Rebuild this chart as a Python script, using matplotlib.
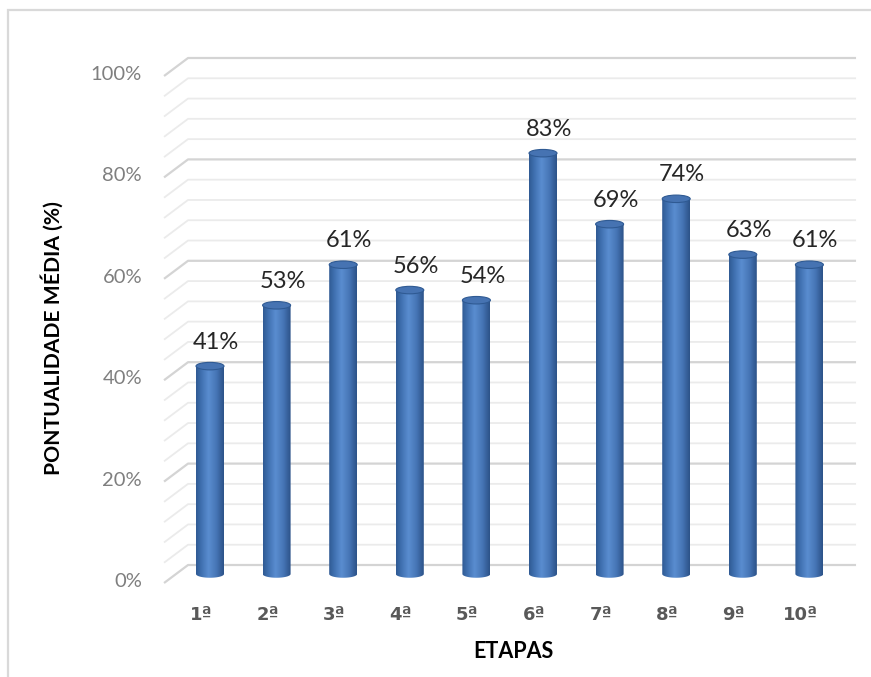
import numpy as np
import matplotlib
matplotlib.use("Agg")
import matplotlib.pyplot as plt
from matplotlib.path import Path
from matplotlib.patches import Ellipse, Rectangle, PathPatch
from matplotlib.colors import LinearSegmentedColormap

# ---- data ----
categories = ["1ª", "2ª", "3ª", "4ª", "5ª", "6ª", "7ª", "8ª", "9ª", "10ª"]
values = [41, 53, 61, 56, 54, 83, 69, 74, 63, 61]
y_ticks = [0, 20, 40, 60, 80, 100]
y_tick_labels = ["0%", "20%", "40%", "60%", "80%", "100%"]
minor_step = 4

W, H = 871, 677
fig = plt.figure(figsize=(W / 100, H / 100), dpi=100)
fig.patch.set_facecolor("white")
plt.rcParams["font.family"] = ["Lato", "DejaVu Sans"]

# pixel geometry of the bar plane (x: category spacing, y: percent scale)
px_cat0, px_step = 210.0, 66.6
px_zero, px_per_pct = 574.0, 5.07

ax = fig.add_axes([0, 0, 1, 1])
ax.set_xlim((0 - px_cat0) / px_step, (W - px_cat0) / px_step)
ax.set_ylim((px_zero - H) / px_per_pct, px_zero / px_per_pct)
ax.set_axis_off()

# depth offset (half depth) in data units
dx = 12 / px_step
dy = 9 / px_per_pct

# ---- gridlines: left slant (floor side) + back wall horizontal ----
x_left = -0.51
x_right = 9.52
levels = np.arange(0, 100 + minor_step, minor_step)
for v in levels:
    major = v % 20 == 0
    col = "#d4d4d4" if major else "#ebebeb"
    lw = 1.6 if major else 1.3
    xs = [x_left - dx, x_left + dx, x_right + dx]
    ys = [v - dy, v + dy, v + dy]
    ax.plot(xs, ys, color=col, lw=lw, solid_capstyle="butt", zorder=1)

# ---- cylinders ----
bar_w = 28 / px_step
ell_h = 7.5 / px_per_pct
cmap = LinearSegmentedColormap.from_list(
    "cyl", [(0.0, "#2f5a93"), (0.18, "#3f70b0"), (0.45, "#5a8dd0"),
            (0.75, "#4574b4"), (1.0, "#2c5288")])
grad = np.linspace(0, 1, 64).reshape(1, -1)

for i, v in enumerate(values):
    x0, x1 = i - bar_w / 2, i + bar_w / 2
    # body outline: straight sides with rounded bottom
    t = np.linspace(np.pi, 2 * np.pi, 40)
    bx = i + (bar_w / 2) * np.cos(t)
    by = 0 + (ell_h / 2) * np.sin(t)
    verts = [(x0, v)] + list(zip(bx, by)) + [(x1, v), (x0, v)]
    codes = [Path.MOVETO] + [Path.LINETO] * (len(verts) - 2) + [Path.CLOSEPOLY]
    body = PathPatch(Path(verts, codes), facecolor="none", edgecolor="none")
    ax.add_patch(body)
    im = ax.imshow(grad, cmap=cmap, extent=(x0, x1, -ell_h, v),
                   aspect="auto", interpolation="bicubic", zorder=3)
    im.set_clip_path(body)
    top = Ellipse((i, v), bar_w, ell_h, facecolor="#4673b2",
                  edgecolor="#2f5a93", lw=0.8, zorder=4)
    ax.add_patch(top)
    ax.text(i + 6 / px_step, v + 24 / px_per_pct, f"{v}%",
            ha="center", va="center", fontsize=17, color="#262626", zorder=5)

# ---- axis text ----
for t_v, t_lab in zip(y_ticks, y_tick_labels):
    ax.text((142 - px_cat0) / px_step, t_v - dy + 0.3, t_lab,
            ha="right", va="center", fontsize=14.5, color="#7f7f7f")

for i, c in enumerate(categories):
    ax.text(i - 9 / px_step, (px_zero - 615) / px_per_pct, c,
            ha="center", va="center", fontsize=13, fontweight="bold",
            color="#595959", family="DejaVu Sans")

fig.text(513 / W, 1 - 652 / H, "ETAPAS", ha="center", va="center",
         fontsize=15.5, fontweight="bold", color="#000000")
fig.text(52 / W, 1 - 338 / H, "PONTUALIDADE MÉDIA (%)", ha="center",
         va="center", rotation=90, fontsize=15.2, fontweight="bold",
         color="#000000")

# chart area border
fig.add_artist(Rectangle((8 / W, -0.1), 1.2, 1 - 10 / H + 0.1,
                         transform=fig.transFigure, fill=False,
                         edgecolor="#d9d9d9", lw=1.6))

fig.savefig("out.png", dpi=100, facecolor="white")
